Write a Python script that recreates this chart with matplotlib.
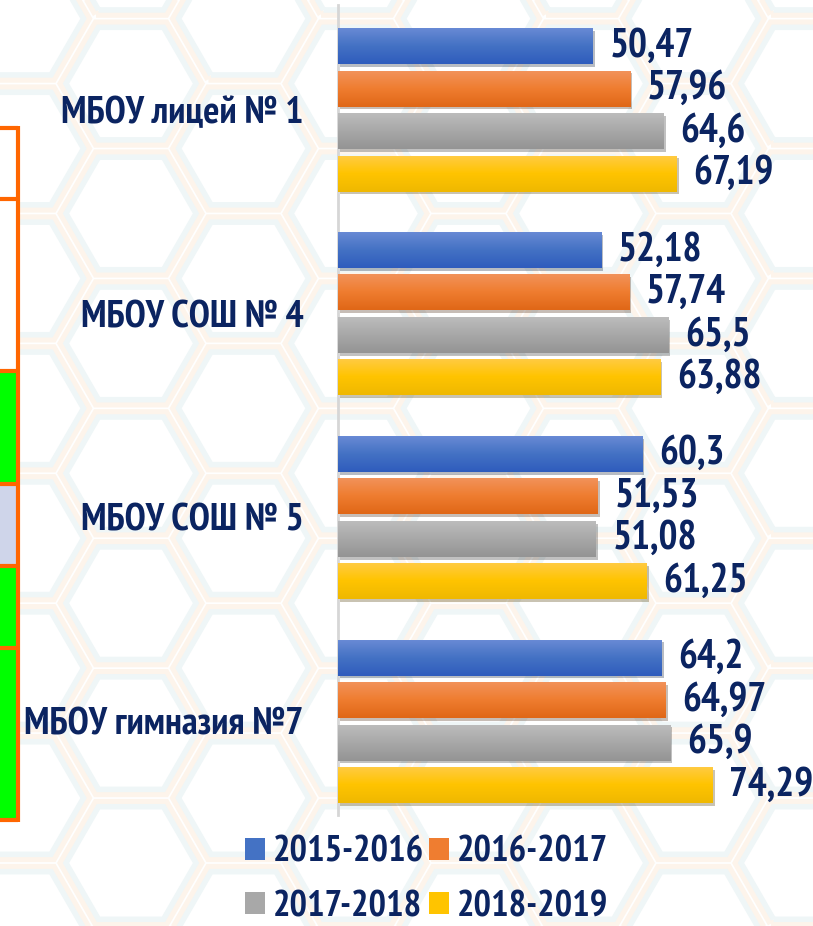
import numpy as np
import matplotlib.pyplot as plt
from matplotlib import font_manager as fm
from matplotlib.patches import Patch, Rectangle, RegularPolygon
from matplotlib.colors import LinearSegmentedColormap
import matplotlib.patheffects as pe

# condensed bold face with Cyrillic, whichever is installed
installed = {f.name for f in fm.fontManager.ttflist}
for cand in ['PT Sans Narrow', 'Fira Sans Condensed', 'Roboto Condensed',
             'Liberation Sans Narrow', 'Sofia Sans Condensed']:
    if cand in installed:
        FONT = cand
        break
else:
    FONT = 'DejaVu Sans'
plt.rcParams['font.family'] = [FONT, 'DejaVu Sans']

# ── DATA ──────────────────────────────────────────────────────────────────────
SCHOOLS = ['МБОУ лицей № 1', 'МБОУ СОШ № 4', 'МБОУ СОШ № 5', 'МБОУ гимназия №7']
YEARS = ['2015-2016', '2016-2017', '2017-2018', '2018-2019']
Y2015 = [50.47, 52.18, 60.3, 64.2]
Y2016 = [57.96, 57.74, 51.53, 64.97]
Y2017 = [64.6, 65.5, 51.08, 65.9]
Y2018 = [67.19, 63.88, 61.25, 74.29]

# ── STYLE ─────────────────────────────────────────────────────────────────────
NAVY = '#0b2461'
# (top, middle, bottom) of each bar gradient
GRADS = [
    ('#6a8bd6', '#4472c4', '#2f5cbd'),
    ('#f2935c', '#ef7d30', '#e06717'),
    ('#bdbdbd', '#a8a8a8', '#949494'),
    ('#ffcb45', '#ffc400', '#efb800'),
]
W, H = 813, 926

fig = plt.figure(figsize=(W / 100, H / 100), dpi=100)
fig.patch.set_facecolor('white')

# background in pixel coordinates: faint honeycomb + cut-off table on the left
bg = fig.add_axes([0, 0, 1, 1], zorder=0)
bg.set_xlim(0, W)
bg.set_ylim(H, 0)
bg.axis('off')

R0 = 75
for col in range(-2, 9):
    for row in range(-2, 9):
        cx = 131 + col * 1.5 * R0
        cy = 863 - row * np.sqrt(3) * R0 - (col % 2) * np.sqrt(3) * R0 / 2
        bg.add_patch(RegularPolygon((cx, cy), 6, radius=R0 - 5, orientation=np.pi / 6,
                                    fill=False, ec='#fdf4eb', lw=5, zorder=0))
        bg.add_patch(RegularPolygon((cx, cy), 6, radius=R0 - 10, orientation=np.pi / 6,
                                    fill=False, ec='#eff6f7', lw=4, zorder=0))

rows = [(128, 199, 'white'), (199, 371, 'white'), (371, 484, '#00ff00'),
        (484, 566, '#cfd5ea'), (566, 648, '#00ff00'), (648, 820, '#00ff00')]
for y0, y1, c in rows:
    bg.add_patch(Rectangle((-5, y0), 23, y1 - y0, fc=c, ec='none', zorder=1))
    bg.plot([-5, 18], [y0, y0], color='#ff6600', lw=3, zorder=2, solid_capstyle='butt')
bg.plot([-5, 18], [820, 820], color='#ff6600', lw=3, zorder=2, solid_capstyle='butt')
bg.plot([18, 18], [126, 822], color='#ff6600', lw=3, zorder=2, solid_capstyle='butt')

# ── CHART ─────────────────────────────────────────────────────────────────────
PX_PER_UNIT = 5.044
ax = fig.add_axes([338 / W, 1 - 815 / H, 475 / W, 810 / H], zorder=1)
ax.patch.set_alpha(0)

series = [Y2015, Y2016, Y2017, Y2018]
y = np.arange(len(SCHOOLS))
pitch = 0.2086
height = 0.1767

for i, vals in enumerate(series):
    bars = ax.barh(y + (i - 1.5) * pitch, vals, height=height, color=GRADS[i][1],
                   zorder=2, label=YEARS[i],
                   path_effects=[pe.SimplePatchShadow(offset=(1.5, -2), alpha=0.3),
                                 pe.Normal()])
    cmap = LinearSegmentedColormap.from_list(f'g{i}', GRADS[i])
    grad = np.linspace(0, 1, 64).reshape(-1, 1)
    for b in bars:
        x0, y0 = b.get_x(), b.get_y()
        im = ax.imshow(grad, cmap=cmap, aspect='auto', zorder=3,
                       extent=[x0, x0 + b.get_width(), y0 + b.get_height(), y0])
        im.set_clip_path(b)
    ax.bar_label(bars, labels=[f'{v:g}'.replace('.', ',') for v in vals],
                 padding=12, fontsize=28.5, fontweight='bold', color=NAVY, zorder=4)

ax.set_xlim(0, 475 / PX_PER_UNIT)
ax.set_ylim(3.46, -0.515)
ax.set_yticks(y)
ax.set_yticklabels(SCHOOLS, fontsize=27.5, fontweight='bold', color=NAVY)
ax.tick_params(axis='y', length=0, pad=25)
ax.set_xticks([])
for s in ['top', 'right', 'bottom']:
    ax.spines[s].set_visible(False)
ax.spines['left'].set_color('#d6d6d6')
ax.spines['left'].set_linewidth(2)

handles = [Patch(facecolor=g[1]) for g in GRADS]
order = [0, 2, 1, 3]
leg = fig.legend([handles[k] for k in order], [YEARS[k] for k in order], ncol=2,
                 loc='upper left', bbox_to_anchor=(245 / W, 1 - 836 / H),
                 frameon=False, fontsize=26.5, handlelength=0.54, handleheight=0.54,
                 handletextpad=0.22, columnspacing=0.12, labelspacing=0.58,
                 borderpad=0, borderaxespad=0)
for t in leg.get_texts():
    t.set_color(NAVY)
    t.set_fontweight('bold')

fig.savefig('out.png', dpi=100)
